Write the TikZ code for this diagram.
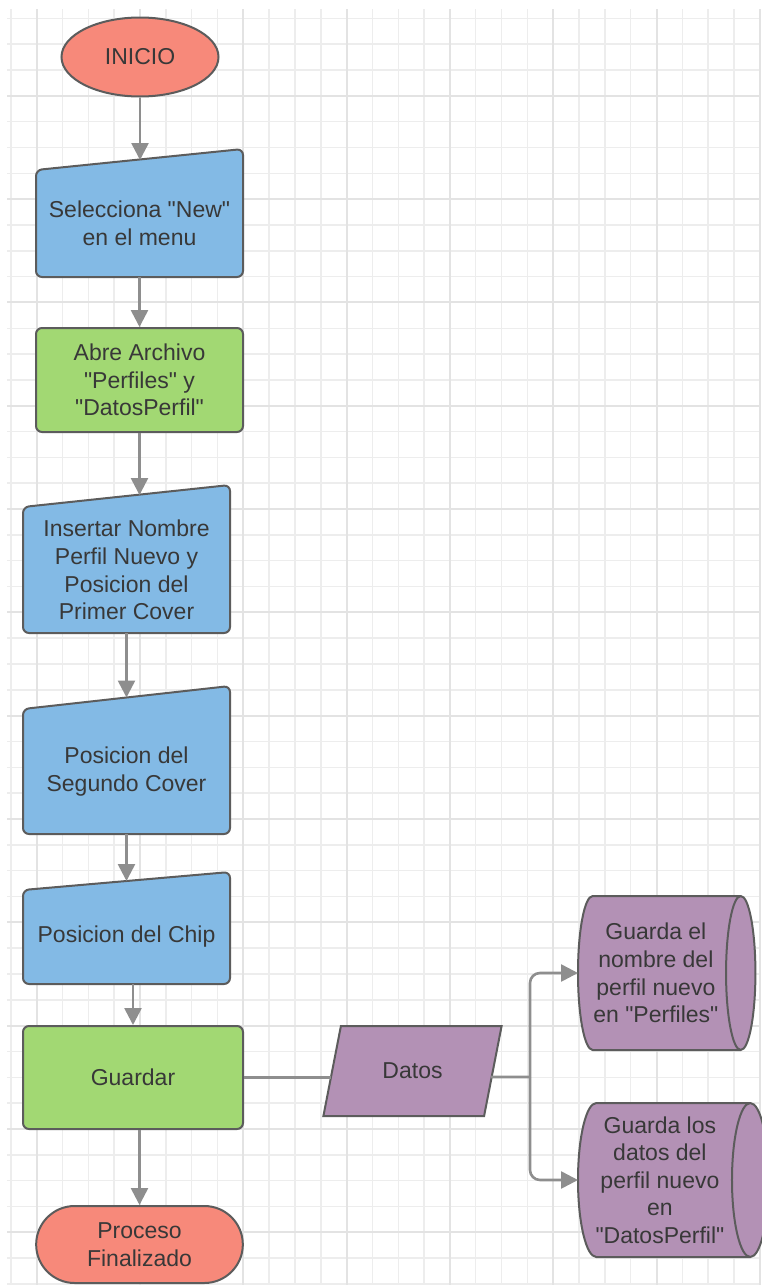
\documentclass[tikz,border=0pt]{standalone}
\usepackage{fontspec}
\setmainfont{Liberation Sans}[Ligatures=TeXOff]
\usetikzlibrary{shapes.geometric,shapes.misc,arrows.meta,calc}
\tikzset{>={Triangle[length=8.5pt,width=8.5pt]}}

\definecolor{salmon}{HTML}{F7897A}
\definecolor{inblue}{HTML}{83BAE5}
\definecolor{procgreen}{HTML}{A2D873}
\definecolor{lilac}{HTML}{B391B5}
\definecolor{edgegray}{HTML}{5C5C5C}
\definecolor{linegray}{HTML}{8E8E8E}
\definecolor{txtgray}{HTML}{383838}

\pgfdeclarelayer{grid}
\pgfdeclarelayer{background}
\pgfsetlayers{grid,background,main}

\begin{document}
\begin{tikzpicture}[x=0.5pt, y=-0.5pt,
    every node/.style={font=\fontsize{11.5pt}{13.8pt}\selectfont, text=txtgray, align=center},
    border/.style={draw=edgegray, line width=1pt},
    term/.style={border, fill=salmon},
    proc/.style={rectangle, border, fill=procgreen, rounded corners=3pt},
    manual/.style={rectangle, outer sep=0pt, minimum width=103.5pt},
    io/.style={trapezium, trapezium left angle=73, trapezium right angle=107,
        trapezium stretches=true, border, fill=lilac, minimum width=89.5pt, minimum height=45pt},
    store/.style={cylinder, shape border rotate=0, aspect=0.26, border, fill=lilac,
        minimum width=77pt, minimum height=85pt, anchor=west, outer sep=0pt},
    flow/.style={->, draw=linegray, line width=1.3pt},
    link/.style={draw=linegray, line width=1.3pt},
    minor/.style={draw=black!7, line width=0.75pt},
    major/.style={draw=black!11, line width=1pt}]
    \useasboundingbox (0,0) rectangle (761,1285);

    % squared paper
    \begin{pgfonlayer}{grid}
        \fill[white] (0,0) rectangle (761,1285);
        \foreach \i in {0,...,29}
            \draw[minor] ({10.8+25.83*\i},9) -- ({10.8+25.83*\i},1285);
        \foreach \j in {0,...,49}
            \draw[minor] (7,{18.3+25.83*\j}) -- (761,{18.3+25.83*\j});
        \foreach \i in {1,5,...,29}
            \draw[major] ({10.8+25.83*\i},9) -- ({10.8+25.83*\i},1285);
        \foreach \j in {3,7,...,47}
            \draw[major] (7,{18.3+25.83*\j}) -- (761,{18.3+25.83*\j});
    \end{pgfonlayer}

    % main column
    \node[ellipse, term, minimum width=78.5pt, minimum height=39.5pt] (ini) at (140,57) {INICIO};
    \node[manual, minimum height=53.5pt] (sel) at (139.5,223.5) {Selecciona "New"\\en el menu};
    \node[proc, minimum width=103.5pt, minimum height=52pt] (abre) at (139.5,380)
        {Abre Archivo\\"Perfiles" y\\"DatosPerfil"};
    \node[manual, minimum height=63pt] (ins) at (126.5,570)
        {Insertar Nombre\\Perfil Nuevo y\\Posicion del\\Primer Cover};
    \node[manual, minimum height=62.5pt] (seg) at (126.5,771.5) {Posicion del\\Segundo Cover};
    \node[manual, minimum height=47pt] (chip) at (126.5,937) {Posicion del Chip};
    \node[proc, minimum width=110pt, minimum height=51.5pt] (gua) at (133,1077.5) {Guardar};
    \node[rounded rectangle, term, minimum width=110pt, minimum height=38.5pt] (fin) at (139.5,1244.5)
        {Proceso\\Finalizado};

    % data branch
    \node[io] (datos) at (412.5,1071) {Datos};
    \node[store] (db1) at (578,973) {Guarda el\\nombre del\\perfil nuevo\\en "Perfiles"};
    \node[store] (db2) at (578,1180) {Guarda los\\datos del\\perfil nuevo\\en\\"DatosPerfil"};

    % manual input outlines, slanted on top
    \begin{pgfonlayer}{background}
        \foreach \n/\s in {sel/21,ins/22,seg/23,chip/18}
            \draw[border, fill=inblue, rounded corners=3pt]
                (\n.south west) -- (\n.south east) -- ($(\n.north east)+(0,-\s)$)
                -- (\n.north west) -- cycle;
    \end{pgfonlayer}

    \draw[flow] (ini.south) -- ($(ini.south |- sel.north)+(0,-10)$);
    \draw[flow] (sel) -- (abre);
    \draw[flow] (abre.south) -- ($(abre.south |- ins.north)+(0,-12)$);
    \draw[flow] (ins.south) -- ($(seg.north)+(0,-11.5)$);
    \draw[flow] (seg.south) -- ($(chip.north)+(0,-9)$);
    \draw[flow] (chip.south -| gua.north) -- (gua.north);
    \draw[flow] (gua.south -| fin.north) -- (fin.north);

    \coordinate (split) at (530,1077);
    \draw[link] (gua.east) -- (gua.east -| datos.west);
    \draw[link] ($(datos.east)+(-3,6)$) -- (split);
    \draw[flow, rounded corners=5pt] (split) |- (db1.west);
    \draw[flow, rounded corners=5pt] (split) |- (db2.west);
\end{tikzpicture}
\end{document}
